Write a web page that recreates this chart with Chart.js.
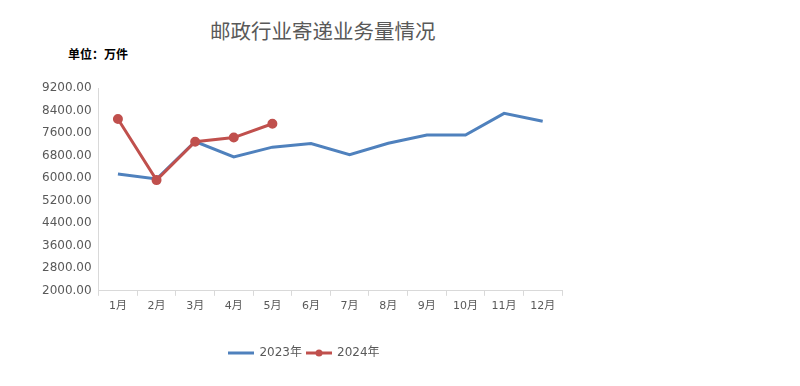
<!DOCTYPE html>
<html>
<head>
<meta charset="utf-8">
<script src="https://cdn.jsdelivr.net/npm/chart.js@4"></script>
<style>
  body { margin: 0; background: #fff; width: 800px; height: 386px; overflow: hidden; position: relative; }
  #wrap { position: absolute; left: 0; top: 0; width: 600px; height: 386px; }
  .title { position: absolute; left: 210px; top: 15px; font: 20.5px "Noto Sans CJK SC", sans-serif; color: #595959; }
  .unit { position: absolute; left: 68px; top: 45px; font: bold 12px "Noto Sans CJK SC", sans-serif; color: #000; }
</style>
</head>
<body>
<div class="title">邮政行业寄递业务量情况</div>
<div class="unit">单位：万件</div>
<div id="wrap"><canvas id="chart"></canvas></div>
<script>
const months = ['1月', '2月', '3月', '4月', '5月', '6月', '7月', '8月', '9月', '10月', '11月', '12月'];
const data2023 = [6150, 5970, 7300, 6750, 7100, 7230, 6830, 7240, 7530, 7530, 8300, 8020];
const data2024 = [8100, 5930, 7290, 7440, 7930];

const blue = '#4f81bd';
const red = '#c0504d';
const txt = '#595959';
const font = '"DejaVu Sans", "Noto Sans CJK SC", sans-serif';

// legend swatches: plain line / line with dot
function swatch(color, dot) {
  const c = document.createElement('canvas');
  c.width = 26; c.height = 10;
  const g = c.getContext('2d');
  g.strokeStyle = color; g.lineWidth = 3;
  g.beginPath(); g.moveTo(0, 5); g.lineTo(26, 5); g.stroke();
  if (dot) {
    g.fillStyle = color;
    g.beginPath(); g.arc(13, 5, 3.5, 0, Math.PI * 2); g.fill();
  }
  return c;
}

// nudge the legend a little to the right, like the original
const legendShift = {
  id: 'legendShift',
  afterLayout(chart) {
    chart.legend.left += 6;
    chart.legend.right += 6;
  }
};

new Chart(document.getElementById('chart'), {
  type: 'line',
  data: {
    labels: months,
    datasets: [{
      label: '2023年',
      data: data2023,
      borderColor: blue,
      backgroundColor: blue,
      borderWidth: 3,
      pointRadius: 0,
      tension: 0,
      order: 1
    }, {
      label: '2024年',
      data: data2024,
      borderColor: red,
      backgroundColor: red,
      borderWidth: 3,
      pointRadius: 3.5,
      pointHoverRadius: 3.5,
      tension: 0,
      order: 0
    }]
  },
  options: {
    responsive: true,
    maintainAspectRatio: false,
    animation: false,
    layout: { padding: { top: 88, right: 38, bottom: 17, left: 35 } },
    plugins: {
      tooltip: { enabled: false },
      legend: {
        position: 'bottom',
        labels: {
          usePointStyle: true,
          pointStyleWidth: 24,
          color: txt,
          font: { family: font, size: 12 },
          padding: 5,
          generateLabels: chart => chart.data.datasets.map((ds, i) => ({
            text: ds.label,
            fontColor: txt,
            pointStyle: swatch(ds.borderColor, i === 1),
            datasetIndex: i,
            lineWidth: 0,
            hidden: false
          }))
        }
      }
    },
    scales: {
      x: {
        offset: true,
        grid: { offset: true, drawOnChartArea: false, tickLength: 5, color: '#d9d9d9' },
        border: { color: '#d9d9d9' },
        ticks: { color: txt, font: { family: font, size: 11 }, padding: 4 },
        afterFit: s => { s.height += 25; }
      },
      y: {
        min: 2000,
        max: 9200,
        grid: { display: true, drawOnChartArea: false, drawTicks: false },
        border: { color: '#d9d9d9' },
        ticks: {
          stepSize: 800,
          color: txt,
          padding: 7,
          font: { family: font, size: 12 },
          callback: v => v.toFixed(2)
        }
      }
    }
  },
  plugins: [legendShift]
});
</script>
</body>
</html>
